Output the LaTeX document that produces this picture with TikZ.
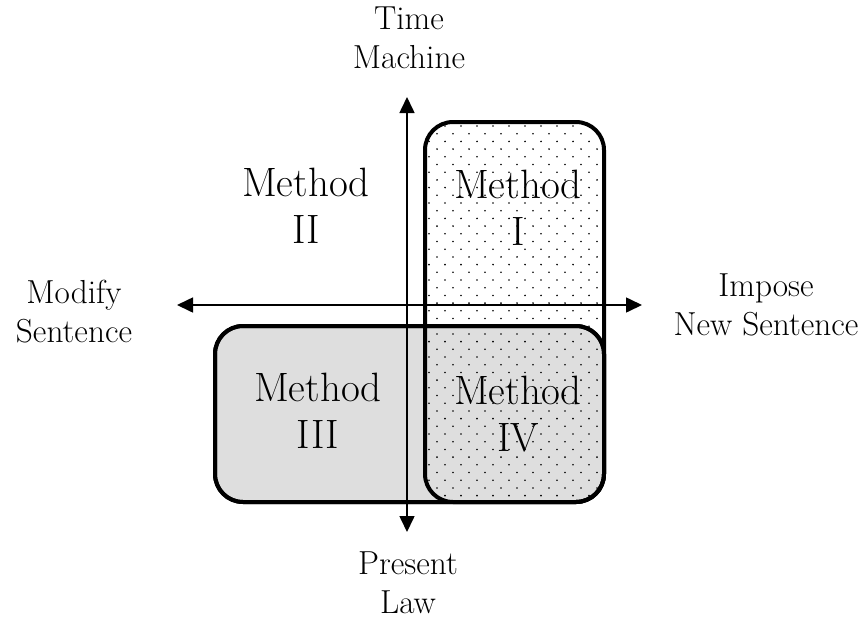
\documentclass[tikz,border=0pt]{standalone}
\usetikzlibrary{arrows.meta}
\definecolor{boxgray}{RGB}{222,222,222}
\tikzset{
  methodbox/.style={draw, line width=4pt, rounded corners=28pt, inner sep=0pt},
  dotted fill/.style={path picture={
      \foreach \j in {0,...,52}{
        \pgfmathsetmacro{\off}{mod(\j,2)*8}
        \foreach \i in {0,...,26}{
          \fill (path picture bounding box.north west) ++(\i*16+\off+4, \j*7.7+4) circle (0.9);
        }
      }}},
  axis/.style={line width=1.6pt, {Triangle[length=16pt,width=15pt]}-{Triangle[length=16pt,width=15pt]}},
  bigtxt/.style={align=center, anchor=base, inner sep=0pt, font=\fontsize{41}{47}\selectfont},
  labtxt/.style={align=center, anchor=base, inner sep=0pt, font=\fontsize{33.3}{38.5}\selectfont}
}
\begin{document}
\begin{tikzpicture}[x=1pt,y=-1pt]
\useasboundingbox (0,0) rectangle (867,619);
% boxes
\node[methodbox, fill=boxgray, minimum width=389pt, minimum height=176pt] (boxIII) at (409.5,414) {};
\node[methodbox, draw=none, dotted fill, minimum width=179pt, minimum height=380pt] (boxI) at (514.5,312) {};
\node[methodbox, minimum width=389pt, minimum height=176pt] (boxIIIo) at (409.5,414) {};
\node[methodbox, minimum width=179pt, minimum height=380pt] (boxIo) at (514.5,312) {};
% axes
\coordinate (vt) at (407,97);
\coordinate (vb) at (407,532);
\coordinate (hl) at (177,305);
\coordinate (hr) at (642,305);
\draw[axis] (vb) -- (vt);
\draw[axis] (hl) -- (hr);
% labels
\node[labtxt] (tm) at (409,68) {Time\\Machine};
\node[labtxt] (pl) at (408,613) {Present\\Law};
\node[labtxt] (ms) at (74,342) {Modify\\Sentence};
\node[labtxt] (ins) at (766,335) {Impose\\New Sentence};
\node[bigtxt] (m2) at (306,243) {Method\\II};
\node[bigtxt] (m1) at (518,245) {Method\\I};
\node[bigtxt] (m3) at (318,448) {Method\\III};
\node[bigtxt] (m4) at (518,451) {Method\\IV};
\end{tikzpicture}
\end{document}
